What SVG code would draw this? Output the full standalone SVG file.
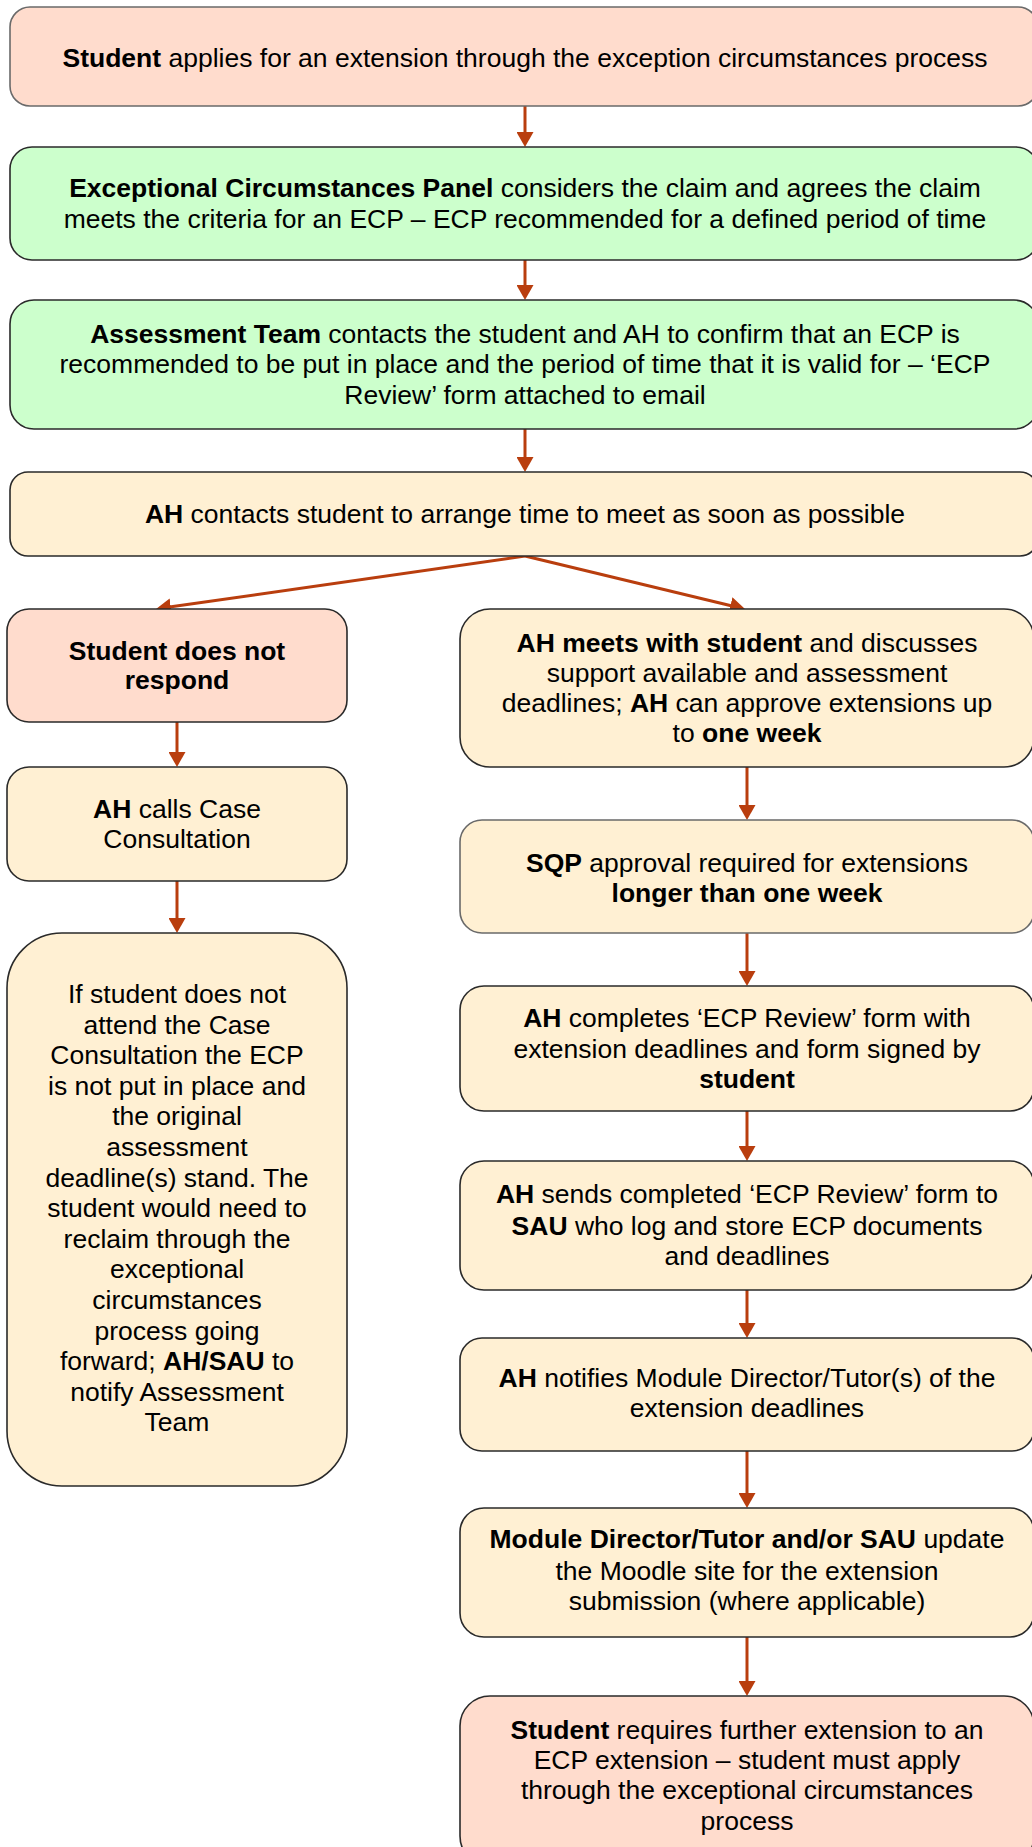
<svg xmlns="http://www.w3.org/2000/svg" width="1032" height="1847" viewBox="0 0 1032 1847">
<style>
text{font-family:"Liberation Sans",Arial,sans-serif;font-size:26.5px;fill:#000;text-anchor:middle}
.b{font-weight:bold}
.pink{fill:#FFDCCD;stroke:#2a2a2a;stroke-width:1.6}
.green{fill:#CCFFCC;stroke:#2a2a2a;stroke-width:1.6}
.cream{fill:#FFF0D3;stroke:#2a2a2a;stroke-width:1.6}
.grey{stroke:#6a6a6a}
.conn{stroke:#B93E0E;stroke-width:3;fill:none;marker-end:url(#ah)}
</style>
<defs>
<marker id="ah" viewBox="0 0 15 17" refX="5" refY="8.5" markerWidth="15" markerHeight="17" markerUnits="userSpaceOnUse" orient="auto">
<path d="M0,0 L15,8.5 L0,17 z" fill="#B93E0E"/>
</marker>
</defs>
<rect width="1032" height="1847" fill="#fff"/>
<g id="connectors">
<path class="conn" d="M525,106 V137"/>
<path class="conn" d="M525,260 V290"/>
<path class="conn" d="M525,429 V462"/>
<path class="conn" d="M525,556 L165.9,607.6"/>
<path class="conn" d="M525,556 L735.3,606.7"/>
<path class="conn" d="M177,722 V757"/>
<path class="conn" d="M177,881 V923"/>
<path class="conn" d="M747,767 V810"/>
<path class="conn" d="M747,933 V976"/>
<path class="conn" d="M747,1111 V1151"/>
<path class="conn" d="M747,1290 V1328"/>
<path class="conn" d="M747,1451 V1498"/>
<path class="conn" d="M747,1637 V1686"/>
</g>
<g id="n1">
<rect class="pink grey" x="10" y="7" width="1028" height="99" rx="20"/>
<text x="525" y="67"><tspan class="b">Student</tspan> applies for an extension through the exception circumstances process</text>
</g>
<g id="n2">
<rect class="green" x="10" y="147" width="1028" height="113" rx="22"/>
<text x="525" y="197"><tspan class="b">Exceptional Circumstances Panel</tspan> considers the claim and agrees the claim</text>
<text x="525" y="228">meets the criteria for an ECP – ECP recommended for a defined period of time</text>
</g>
<g id="n3">
<rect class="green" x="10" y="300" width="1028" height="129" rx="24"/>
<text x="525" y="343"><tspan class="b">Assessment Team</tspan> contacts the student and AH to confirm that an ECP is</text>
<text x="525" y="373">recommended to be put in place and the period of time that it is valid for – ‘ECP</text>
<text x="525" y="404">Review’ form attached to email</text>
</g>
<g id="n4">
<rect class="cream" x="10" y="472" width="1028" height="84" rx="18"/>
<text x="525" y="523"><tspan class="b">AH</tspan> contacts student to arrange time to meet as soon as possible</text>
</g>
<g id="n5">
<rect class="pink" x="7" y="609" width="340" height="113" rx="22"/>
<text x="177" y="660" class="b">Student does not</text>
<text x="177" y="689" class="b">respond</text>
</g>
<g id="n6">
<rect class="cream" x="7" y="767" width="340" height="114" rx="22"/>
<text x="177" y="818"><tspan class="b">AH</tspan> calls Case</text>
<text x="177" y="848">Consultation</text>
</g>
<g id="n7">
<rect class="cream" x="7" y="933" width="340" height="553" rx="55"/>
<text x="177" y="1003">If student does not</text>
<text x="177" y="1033.6">attend the Case</text>
<text x="177" y="1064.2">Consultation the ECP</text>
<text x="177" y="1094.8">is not put in place and</text>
<text x="177" y="1125.4">the original</text>
<text x="177" y="1156">assessment</text>
<text x="177" y="1186.6">deadline(s) stand. The</text>
<text x="177" y="1217.2">student would need to</text>
<text x="177" y="1247.8">reclaim through the</text>
<text x="177" y="1278.4">exceptional</text>
<text x="177" y="1309">circumstances</text>
<text x="177" y="1339.6">process going</text>
<text x="177" y="1370.2">forward; <tspan class="b">AH/SAU</tspan> to</text>
<text x="177" y="1400.8">notify Assessment</text>
<text x="177" y="1431.4">Team</text>
</g>
<g id="n8">
<rect class="cream" x="460" y="609" width="574" height="158" rx="30"/>
<text x="747" y="652"><tspan class="b">AH meets with student</tspan> and discusses</text>
<text x="747" y="682">support available and assessment</text>
<text x="747" y="712">deadlines; <tspan class="b">AH</tspan> can approve extensions up</text>
<text x="747" y="742">to <tspan class="b">one week</tspan></text>
</g>
<g id="n9">
<rect class="cream grey" x="460" y="820" width="574" height="113" rx="22"/>
<text x="747" y="872"><tspan class="b">SQP</tspan> approval required for extensions</text>
<text x="747" y="902" class="b">longer than one week</text>
</g>
<g id="n10">
<rect class="cream" x="460" y="986" width="574" height="125" rx="24"/>
<text x="747" y="1027"><tspan class="b">AH</tspan> completes ‘ECP Review’ form with</text>
<text x="747" y="1058">extension deadlines and form signed by</text>
<text x="747" y="1088" class="b">student</text>
</g>
<g id="n11">
<rect class="cream" x="460" y="1161" width="574" height="129" rx="24"/>
<text x="747" y="1203"><tspan class="b">AH</tspan> sends completed ‘ECP Review’ form to</text>
<text x="747" y="1235"><tspan class="b">SAU</tspan> who log and store ECP documents</text>
<text x="747" y="1265">and deadlines</text>
</g>
<g id="n12">
<rect class="cream" x="460" y="1338" width="574" height="113" rx="22"/>
<text x="747" y="1387"><tspan class="b">AH</tspan> notifies Module Director/Tutor(s) of the</text>
<text x="747" y="1417">extension deadlines</text>
</g>
<g id="n13">
<rect class="cream" x="460" y="1508" width="574" height="129" rx="24"/>
<text x="747" y="1548"><tspan class="b">Module Director/Tutor and/or SAU</tspan> update</text>
<text x="747" y="1580">the Moodle site for the extension</text>
<text x="747" y="1610">submission (where applicable)</text>
</g>
<g id="n14">
<rect class="pink" x="460" y="1696" width="574" height="170" rx="30"/>
<text x="747" y="1739"><tspan class="b">Student</tspan> requires further extension to an</text>
<text x="747" y="1769">ECP extension – student must apply</text>
<text x="747" y="1799">through the exceptional circumstances</text>
<text x="747" y="1830">process</text>
</g>
</svg>
